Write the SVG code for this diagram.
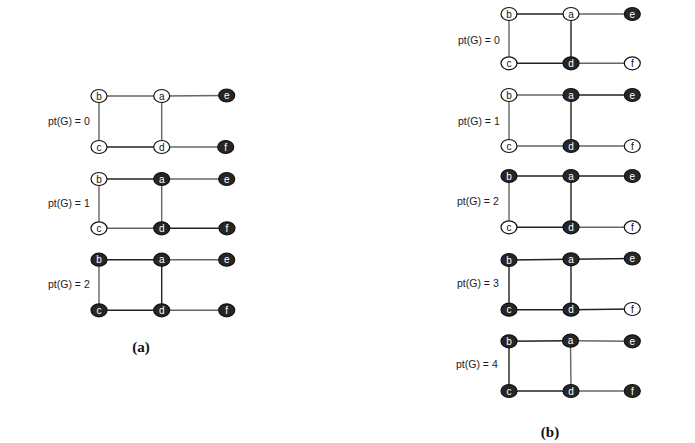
<svg xmlns="http://www.w3.org/2000/svg" width="695" height="443" viewBox="0 0 695 443">
<style>
.w ellipse{fill:#fff;stroke:#111;stroke-width:1.2}
.k ellipse{fill:#262626;stroke:#111;stroke-width:1.2}
.w text{fill:#111}
.k text{fill:#fff}
text{font-family:"Liberation Sans",Arial,sans-serif}
.n text{font-size:10px;text-anchor:middle}
.lbl{font-size:10.5px;fill:#1a1a2a}
.cap{font-family:"Liberation Serif","Times New Roman",serif;font-size:15px;font-weight:bold;text-anchor:middle;fill:#111}
.e{stroke:#222;stroke-width:1.4;fill:none}
.g{stroke:#666;stroke-width:1.4;fill:none}
</style>
<rect width="695" height="443" fill="#fff"/>
<g id="connectors">
<line class="g" x1="99" y1="96" x2="161.7" y2="96"/><line class="g" x1="161.7" y1="96" x2="226.7" y2="95.5"/>
<line class="g" x1="99" y1="96" x2="99" y2="147"/><line class="e" x1="99" y1="147" x2="161.7" y2="147"/>
<line class="g" x1="161.7" y1="96" x2="161.7" y2="147"/><line class="g" x1="161.7" y1="147" x2="225.7" y2="147"/>
<line class="e" x1="99" y1="179" x2="161.7" y2="179"/><line class="g" x1="161.7" y1="179" x2="226.7" y2="179"/>
<line class="g" x1="99" y1="179" x2="99" y2="228.3"/><line class="g" x1="99" y1="228.3" x2="161.7" y2="228.3"/>
<line class="g" x1="161.7" y1="179" x2="161.7" y2="228.3"/><line class="e" x1="161.7" y1="228.3" x2="227" y2="228.3"/>
<line class="e" x1="99" y1="259.7" x2="161.7" y2="259.7"/><line class="g" x1="161.7" y1="259.7" x2="226.7" y2="259.7"/>
<line class="g" x1="99" y1="259.7" x2="99" y2="310.3"/><line class="e" x1="99" y1="310.3" x2="161.7" y2="310.3"/>
<line class="e" x1="161.7" y1="259.7" x2="161.7" y2="310.3"/><line class="g" x1="161.7" y1="310.3" x2="226.7" y2="310.3"/>
<line class="e" x1="509" y1="14" x2="571" y2="14"/><line class="g" x1="571" y1="14" x2="632.3" y2="14"/>
<line class="g" x1="509" y1="14" x2="509" y2="63.3"/><line class="e" x1="509" y1="63.3" x2="571" y2="63.3"/>
<line class="e" x1="571" y1="14" x2="571" y2="63.3"/><line class="g" x1="571" y1="63.3" x2="632.3" y2="63.3"/>
<line class="g" x1="509" y1="95" x2="571" y2="95"/><line class="e" x1="571" y1="95" x2="632.3" y2="95"/>
<line class="g" x1="509" y1="95" x2="509" y2="146"/><line class="g" x1="509" y1="146" x2="571" y2="146"/>
<line class="e" x1="571" y1="95" x2="571" y2="146"/><line class="g" x1="571" y1="146" x2="632.3" y2="146"/>
<line class="e" x1="509" y1="176" x2="571" y2="176"/><line class="e" x1="571" y1="176" x2="632.3" y2="176"/>
<line class="g" x1="509" y1="176" x2="509" y2="227.3"/><line class="e" x1="509" y1="227.3" x2="571" y2="227.3"/>
<line class="e" x1="571" y1="176" x2="571" y2="227.3"/><line class="g" x1="571" y1="227.3" x2="632.3" y2="227.3"/>
<line class="e" x1="509" y1="260" x2="571" y2="259.3"/><line class="e" x1="571" y1="259.3" x2="632.3" y2="258.5"/>
<line class="e" x1="509" y1="260" x2="509" y2="309.7"/><line class="e" x1="509" y1="309.7" x2="571" y2="309.7"/>
<line class="e" x1="571" y1="259.3" x2="571" y2="309.7"/><line class="e" x1="571" y1="309.7" x2="632.3" y2="309"/>
<line class="e" x1="509" y1="341.3" x2="570.5" y2="340.7"/><line class="g" x1="570.5" y1="340.7" x2="632.3" y2="341.3"/>
<line class="e" x1="509" y1="341.3" x2="509" y2="391"/><line class="e" x1="509" y1="391" x2="571" y2="391"/>
<line class="g" x1="570.5" y1="340.7" x2="571" y2="391"/><line class="g" x1="571" y1="391" x2="632.3" y2="391"/>
</g>
<g id="a1-b" class="n w"><ellipse cx="99" cy="96" rx="8" ry="6.5"/><text x="99" y="99.5">b</text></g>
<g id="a1-a" class="n w"><ellipse cx="161.7" cy="96" rx="8" ry="6.5"/><text x="161.7" y="99.5">a</text></g>
<g id="a1-e" class="n k"><ellipse cx="226.7" cy="95.5" rx="8" ry="6.5"/><text x="226.7" y="99">e</text></g>
<g id="a1-c" class="n w"><ellipse cx="99" cy="147" rx="8" ry="6.5"/><text x="99" y="150.5">c</text></g>
<g id="a1-d" class="n w"><ellipse cx="161.7" cy="147" rx="8" ry="6.5"/><text x="161.7" y="150.5">d</text></g>
<g id="a1-f" class="n k"><ellipse cx="225.7" cy="147" rx="8" ry="6.5"/><text x="225.7" y="150.5">f</text></g>
<text class="lbl" x="48" y="125">pt(G) = 0</text>
<g id="a2-b" class="n w"><ellipse cx="99" cy="179" rx="8" ry="6.5"/><text x="99" y="182.5">b</text></g>
<g id="a2-a" class="n k"><ellipse cx="161.7" cy="179" rx="8" ry="6.5"/><text x="161.7" y="182.5">a</text></g>
<g id="a2-e" class="n k"><ellipse cx="226.7" cy="179" rx="8" ry="6.5"/><text x="226.7" y="182.5">e</text></g>
<g id="a2-c" class="n w"><ellipse cx="99" cy="228.3" rx="8" ry="6.5"/><text x="99" y="231.8">c</text></g>
<g id="a2-d" class="n k"><ellipse cx="161.7" cy="228.3" rx="8" ry="6.5"/><text x="161.7" y="231.8">d</text></g>
<g id="a2-f" class="n k"><ellipse cx="227" cy="228.3" rx="8" ry="6.5"/><text x="227" y="231.8">f</text></g>
<text class="lbl" x="48" y="206.5">pt(G) = 1</text>
<g id="a3-b" class="n k"><ellipse cx="99" cy="259.7" rx="8" ry="6.5"/><text x="99" y="263.2">b</text></g>
<g id="a3-a" class="n k"><ellipse cx="161.7" cy="259.7" rx="8" ry="6.5"/><text x="161.7" y="263.2">a</text></g>
<g id="a3-e" class="n k"><ellipse cx="226.7" cy="259.7" rx="8" ry="6.5"/><text x="226.7" y="263.2">e</text></g>
<g id="a3-c" class="n k"><ellipse cx="99" cy="310.3" rx="8" ry="6.5"/><text x="99" y="313.8">c</text></g>
<g id="a3-d" class="n k"><ellipse cx="161.7" cy="310.3" rx="8" ry="6.5"/><text x="161.7" y="313.8">d</text></g>
<g id="a3-f" class="n k"><ellipse cx="226.7" cy="310.3" rx="8" ry="6.5"/><text x="226.7" y="313.8">f</text></g>
<text class="lbl" x="48" y="288">pt(G) = 2</text>
<text class="cap" x="141" y="352">(a)</text>
<g id="b1-b" class="n w"><ellipse cx="509" cy="14" rx="8" ry="6.5"/><text x="509" y="17.5">b</text></g>
<g id="b1-a" class="n w"><ellipse cx="571" cy="14" rx="8" ry="6.5"/><text x="571" y="17.5">a</text></g>
<g id="b1-e" class="n k"><ellipse cx="632.3" cy="14" rx="8" ry="6.5"/><text x="632.3" y="17.5">e</text></g>
<g id="b1-c" class="n w"><ellipse cx="509" cy="63.3" rx="8" ry="6.5"/><text x="509" y="66.8">c</text></g>
<g id="b1-d" class="n k"><ellipse cx="571" cy="63.3" rx="8" ry="6.5"/><text x="571" y="66.8">d</text></g>
<g id="b1-f" class="n w"><ellipse cx="632.3" cy="63.3" rx="8" ry="6.5"/><text x="632.3" y="66.8">f</text></g>
<text class="lbl" x="458" y="44">pt(G) = 0</text>
<g id="b2-b" class="n w"><ellipse cx="509" cy="95" rx="8" ry="6.5"/><text x="509" y="98.5">b</text></g>
<g id="b2-a" class="n k"><ellipse cx="571" cy="95" rx="8" ry="6.5"/><text x="571" y="98.5">a</text></g>
<g id="b2-e" class="n k"><ellipse cx="632.3" cy="95" rx="8" ry="6.5"/><text x="632.3" y="98.5">e</text></g>
<g id="b2-c" class="n w"><ellipse cx="509" cy="146" rx="8" ry="6.5"/><text x="509" y="149.5">c</text></g>
<g id="b2-d" class="n k"><ellipse cx="571" cy="146" rx="8" ry="6.5"/><text x="571" y="149.5">d</text></g>
<g id="b2-f" class="n w"><ellipse cx="632.3" cy="146" rx="8" ry="6.5"/><text x="632.3" y="149.5">f</text></g>
<text class="lbl" x="458" y="124.5">pt(G) = 1</text>
<g id="b3-b" class="n k"><ellipse cx="509" cy="176" rx="8" ry="6.5"/><text x="509" y="179.5">b</text></g>
<g id="b3-a" class="n k"><ellipse cx="571" cy="176" rx="8" ry="6.5"/><text x="571" y="179.5">a</text></g>
<g id="b3-e" class="n k"><ellipse cx="632.3" cy="176" rx="8" ry="6.5"/><text x="632.3" y="179.5">e</text></g>
<g id="b3-c" class="n w"><ellipse cx="509" cy="227.3" rx="8" ry="6.5"/><text x="509" y="230.8">c</text></g>
<g id="b3-d" class="n k"><ellipse cx="571" cy="227.3" rx="8" ry="6.5"/><text x="571" y="230.8">d</text></g>
<g id="b3-f" class="n w"><ellipse cx="632.3" cy="227.3" rx="8" ry="6.5"/><text x="632.3" y="230.8">f</text></g>
<text class="lbl" x="457" y="205">pt(G) = 2</text>
<g id="b4-b" class="n k"><ellipse cx="509" cy="260" rx="8" ry="6.5"/><text x="509" y="263.5">b</text></g>
<g id="b4-a" class="n k"><ellipse cx="571" cy="259.3" rx="8" ry="6.5"/><text x="571" y="262.8">a</text></g>
<g id="b4-e" class="n k"><ellipse cx="632.3" cy="258.5" rx="8" ry="6.5"/><text x="632.3" y="262">e</text></g>
<g id="b4-c" class="n k"><ellipse cx="509" cy="309.7" rx="8" ry="6.5"/><text x="509" y="313.2">c</text></g>
<g id="b4-d" class="n k"><ellipse cx="571" cy="309.7" rx="8" ry="6.5"/><text x="571" y="313.2">d</text></g>
<g id="b4-f" class="n w"><ellipse cx="632.3" cy="309" rx="8" ry="6.5"/><text x="632.3" y="312.5">f</text></g>
<text class="lbl" x="457" y="287">pt(G) = 3</text>
<g id="b5-b" class="n k"><ellipse cx="509" cy="341.3" rx="8" ry="6.5"/><text x="509" y="344.8">b</text></g>
<g id="b5-a" class="n k"><ellipse cx="570.5" cy="340.7" rx="8" ry="6.5"/><text x="570.5" y="344.2">a</text></g>
<g id="b5-e" class="n k"><ellipse cx="632.3" cy="341.3" rx="8" ry="6.5"/><text x="632.3" y="344.8">e</text></g>
<g id="b5-c" class="n k"><ellipse cx="509" cy="391" rx="8" ry="6.5"/><text x="509" y="394.5">c</text></g>
<g id="b5-d" class="n k"><ellipse cx="571" cy="391" rx="8" ry="6.5"/><text x="571" y="394.5">d</text></g>
<g id="b5-f" class="n k"><ellipse cx="632.3" cy="391" rx="8" ry="6.5"/><text x="632.3" y="394.5">f</text></g>
<text class="lbl" x="456" y="368">pt(G) = 4</text>
<text class="cap" x="550" y="437">(b)</text>
</svg>
